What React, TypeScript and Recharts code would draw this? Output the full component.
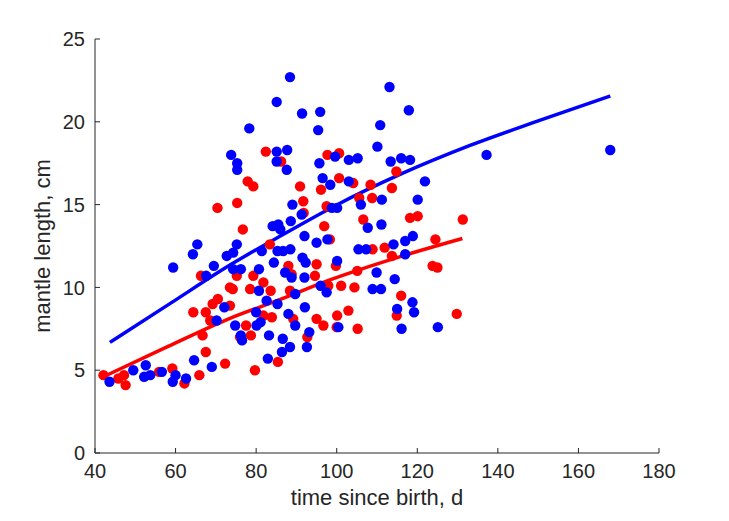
import React from 'react';
import { ComposedChart, Scatter, Line, XAxis, YAxis, Label } from 'recharts';

// Blue series: time since birth (d) and mantle length (cm)
const blueDays = [
  43.6, 49.5, 52.6, 52.2, 53.7, 56.6, 60.0, 59.3, 62.6, 64.6, 69.0, 72.1, 70.2, 67.6, 59.4, 64.3,
  69.5, 72.7, 73.8, 65.4, 88.4, 85.1, 91.4, 95.9, 78.3, 95.4, 85.1, 87.7, 99.6, 75.3, 85.1, 75.3,
  87.6, 95.7, 96.5, 98.4, 89.0, 91.3, 98.8, 100.1, 84.1, 85.5, 86.0, 88.6, 92.0, 95.0, 97.7, 75.2,
  74.3, 81.4, 85.3, 86.7, 88.5, 74.3, 76.2, 80.7, 84.4, 91.5, 92.3, 87.2, 88.8, 100.1, 92.0, 96.0,
  80.7, 89.7, 97.5, 82.6, 85.3, 80.0, 88.0, 92.1, 74.8, 80.1, 81.1, 89.7, 100.4, 93.2, 76.2, 76.5,
  83.2, 86.6, 86.4, 88.4, 92.6, 82.9, 113.1, 117.9, 110.8, 110.1, 103.0, 105.2, 113.4, 116.0, 118.2, 121.9,
  103.0, 111.2, 120.1, 106.0, 107.7, 111.1, 105.4, 107.3, 114.1, 117.0, 118.9, 117.0, 109.9, 114.4, 108.9, 111.0,
  118.8, 115.0, 119.2, 116.1, 125.1, 137.2, 167.9,
];
const blueLength = [
  4.3, 5.0, 5.3, 4.6, 4.7, 4.9, 4.7, 4.3, 4.5, 5.6, 5.2, 8.8, 8.0, 10.7, 11.2, 12.0,
  11.3, 11.9, 18.0, 12.6, 22.7, 21.2, 20.5, 20.6, 19.6, 19.5, 18.2, 18.3, 17.9, 17.5, 17.6, 17.1,
  17.1, 17.5, 16.6, 16.2, 15.0, 14.4, 14.8, 14.8, 13.7, 13.8, 13.5, 14.0, 13.1, 12.7, 12.9, 12.6,
  12.1, 12.2, 12.2, 12.2, 12.3, 11.1, 11.1, 11.1, 11.5, 11.8, 11.5, 10.9, 10.6, 11.6, 10.6, 10.1,
  9.8, 9.6, 9.7, 9.2, 9.0, 8.5, 8.4, 8.8, 7.7, 7.7, 7.9, 7.7, 7.6, 7.3, 7.1, 6.8,
  7.1, 6.9, 6.1, 6.4, 6.4, 5.7, 22.1, 20.7, 19.8, 18.5, 17.7, 17.8, 17.6, 17.8, 17.7, 16.4,
  16.4, 15.3, 15.3, 15.0, 13.6, 13.8, 12.3, 12.3, 12.6, 12.8, 13.1, 12.0, 10.9, 10.5, 9.9, 9.9,
  9.1, 8.7, 8.5, 7.5, 7.6, 18.0, 18.3,
];

// Red series
const redDays = [
  42.1, 45.8, 47.2, 47.6, 55.9, 59.2, 62.2, 65.9, 72.3, 67.5, 66.7, 64.4, 67.5, 68.6, 69.2, 70.5,
  73.5, 66.3, 70.4, 82.4, 97.7, 100.6, 86.2, 77.9, 79.3, 90.9, 96.1, 100.6, 91.7, 75.3, 91.8, 97.5,
  76.7, 96.9, 83.4, 88.0, 88.8, 95.0, 99.8, 75.2, 79.3, 81.8, 94.6, 97.9, 74.2, 78.5, 83.6, 88.4,
  73.5, 81.8, 83.9, 89.2, 95.0, 100.1, 77.5, 96.7, 100.0, 92.7, 76.0, 78.7, 85.4, 79.7, 114.8, 104.1,
  108.4, 113.7, 105.6, 108.8, 106.6, 118.2, 120.1, 131.3, 98.3, 108.9, 111.9, 124.5, 113.7, 105.1, 123.8, 125.0,
  101.1, 104.4, 116.0, 114.9, 102.9, 129.8, 105.2,
];
const redLength = [
  4.7, 4.5, 4.7, 4.1, 4.9, 5.1, 4.2, 4.7, 5.4, 6.1, 7.1, 8.5, 8.5, 8.0, 9.0, 9.3,
  10.0, 10.7, 14.8, 18.2, 18.0, 18.1, 17.6, 16.4, 16.1, 16.1, 15.9, 16.6, 15.2, 15.1, 14.5, 14.9,
  13.5, 13.7, 12.6, 11.3, 10.8, 11.4, 11.3, 10.7, 10.7, 10.3, 10.7, 10.1, 9.9, 9.9, 9.8, 9.8,
  8.9, 8.3, 8.2, 8.1, 8.1, 8.3, 7.7, 7.7, 7.6, 7.0, 7.0, 7.1, 5.5, 5.0, 17.0, 16.3,
  16.2, 16.0, 15.4, 15.4, 14.1, 14.2, 14.3, 14.1, 12.9, 12.3, 12.4, 12.9, 11.9, 11.0, 11.3, 11.2,
  10.1, 10.0, 9.5, 8.3, 8.6, 8.4, 7.5,
];

// Fitted curves
const blueFitDays = [43.7, 58.6, 73.5, 86, 100, 116, 133.1, 150, 167.9];
const blueFitLength = [6.68, 9.02, 11.35, 13.1, 14.98, 16.85, 18.57, 20.05, 21.56];
const redFitDays = [42.5, 58, 73.5, 86, 98.3, 115, 131.2];
const redFitLength = [4.65, 6.42, 8.13, 9.27, 10.45, 11.8, 12.95];

const xTicks = [40, 60, 80, 100, 120, 140, 160, 180];
const yTicks = [0, 5, 10, 15, 20, 25];

const zip = (xs: number[], ys: number[]) => xs.map((x, i) => ({ x, y: ys[i] }));

const blueData = zip(blueDays, blueLength);
const redData = zip(redDays, redLength);
const blueFit = zip(blueFitDays, blueFitLength);
const redFit = zip(redFitDays, redFitLength);

const FONT = '"Liberation Sans", Arial, Helvetica, sans-serif';
const AXIS = '#262626';
const TICK_LEN = 5;
const X_MARGIN = 11;
const Y_MARGIN = 10;

const makeDot = (color: string) => (props: any) => (
  <circle cx={props.cx} cy={props.cy} r={5.2} fill={color} stroke="none" />
);

const XTick = (props: any) => {
  const { x, y, payload } = props;
  const axisY = y - X_MARGIN;
  return (
    <g>
      <line x1={x} x2={x} y1={axisY} y2={axisY - TICK_LEN} stroke={AXIS} strokeWidth={1} />
      <text x={x} y={y} dy="0.71em" textAnchor="middle" fontSize={20} fill={AXIS} fontFamily={FONT}>
        {payload.value}
      </text>
    </g>
  );
};

const YTick = (props: any) => {
  const { x, y, payload } = props;
  const axisX = x + Y_MARGIN;
  return (
    <g>
      <line x1={axisX} x2={axisX + TICK_LEN} y1={y} y2={y} stroke={AXIS} strokeWidth={1} />
      <text x={x} y={y} dy="0.355em" textAnchor="end" fontSize={20} fill={AXIS} fontFamily={FONT}>
        {payload.value}
      </text>
    </g>
  );
};

export default function App() {
  return (
    <div style={{ position: 'absolute', left: 0, top: 0, background: '#fff' }}>
      <ComposedChart
        width={729}
        height={521}
        margin={{ top: 39, right: 70, bottom: 16, left: 35 }}
        style={{ background: '#fff' }}
      >
        <XAxis
          type="number"
          dataKey="x"
          domain={[40, 180]}
          ticks={xTicks}
          interval={0}
          height={52}
          tickSize={0}
          tickMargin={X_MARGIN}
          tick={<XTick />}
          tickLine={false}
          axisLine={{ stroke: AXIS, strokeWidth: 1 }}
        >
          <Label
            content={(p: any) => {
              const vb = p.viewBox || {};
              return (
                <text
                  x={vb.x + vb.width / 2}
                  y={vb.y + 52}
                  textAnchor="middle"
                  fontSize={22}
                  fill={AXIS}
                  fontFamily={FONT}
                >
                  time since birth, d
                </text>
              );
            }}
          />
        </XAxis>
        <YAxis
          type="number"
          dataKey="y"
          domain={[0, 25]}
          ticks={yTicks}
          interval={0}
          width={60}
          tickSize={0}
          tickMargin={Y_MARGIN}
          tick={<YTick />}
          tickLine={false}
          axisLine={{ stroke: AXIS, strokeWidth: 1 }}
        >
          <Label
            content={(p: any) => {
              const vb = p.viewBox || {};
              const cx = vb.x + 15;
              const cy = vb.y + vb.height / 2;
              return (
                <text
                  x={cx}
                  y={cy}
                  transform={`rotate(-90, ${cx}, ${cy})`}
                  textAnchor="middle"
                  fontSize={22}
                  fill={AXIS}
                  fontFamily={FONT}
                >
                  mantle length, cm
                </text>
              );
            }}
          />
        </YAxis>
        <Scatter data={redData} dataKey="y" fill="#ff0000" shape={makeDot('#ff0000')} isAnimationActive={false} />
        <Scatter data={blueData} dataKey="y" fill="#0000ff" shape={makeDot('#0000ff')} isAnimationActive={false} />
        <Line
          data={redFit}
          dataKey="y"
          type="monotone"
          stroke="#ff0000"
          strokeWidth={3.5}
          dot={false}
          activeDot={false}
          isAnimationActive={false}
        />
        <Line
          data={blueFit}
          dataKey="y"
          type="monotone"
          stroke="#0000ff"
          strokeWidth={3.5}
          dot={false}
          activeDot={false}
          isAnimationActive={false}
        />
      </ComposedChart>
    </div>
  );
}
